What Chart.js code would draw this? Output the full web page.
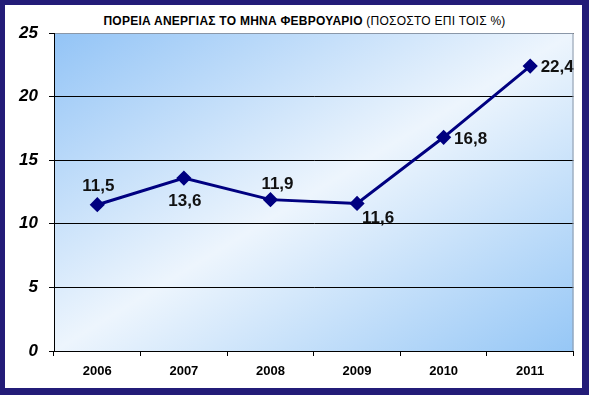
<!DOCTYPE html>
<html>
<head>
<meta charset="utf-8">
<script src="https://cdn.jsdelivr.net/npm/chart.js@4"></script>
<style>
  html, body { margin: 0; padding: 0; }
  body { width: 589px; height: 395px; background: #231c78; position: relative; overflow: hidden; }
  #box { position: absolute; left: 5px; top: 5px; width: 577px; height: 383px; background: #fff; }
  #title { position: absolute; left: 22px; top: 9px; width: 555px; text-align: center;
    font-family: "Liberation Sans", Arial, sans-serif; font-size: 12px; color: #000; letter-spacing: 0.25px; }
  #title b { font-weight: bold; }
  #myChart { position: absolute; left: 0; top: 0; }
</style>
</head>
<body>
<div id="box">
  <div id="title"><b>ΠΟΡΕΙΑ ΑΝΕΡΓΙΑΣ ΤΟ ΜΗΝΑ ΦΕΒΡΟΥΑΡΙΟ</b> (ΠΟΣΟΣΤΟ ΕΠΙ ΤΟΙΣ %)</div>
  <canvas id="myChart" width="577" height="383"></canvas>
</div>
<script>
var years = ["2006", "2007", "2008", "2009", "2010", "2011"];
var rates = [11.5, 13.6, 11.9, 11.6, 16.8, 22.4];
var yTicks = [0, 5, 10, 15, 20, 25];

// where each value label sits relative to its point
var labelShift = [[1, -18], [1, 23], [7, -15], [21, 15], [27, 2], [27, 1]];

var plotBack = {
	id: 'plotBack',
	beforeDraw: function(chart) {
		var a = chart.chartArea, ctx = chart.ctx;
		var w = a.right - a.left, h = a.bottom - a.top;
		var cx = a.left + w / 2, cy = a.top + h / 2;
		var k = w * h / (w * w + h * h);
		var g = ctx.createLinearGradient(cx - h * k, cy - w * k, cx + h * k, cy + w * k);
		g.addColorStop(0, '#93c4f6');
		g.addColorStop(0.5, '#edf5fd');
		g.addColorStop(1, '#96c7f6');
		ctx.save();
		ctx.fillStyle = g;
		ctx.fillRect(a.left, a.top, w, h);
		ctx.restore();
	},
	afterDraw: function(chart) {
		var a = chart.chartArea, ctx = chart.ctx;
		ctx.save();
		ctx.strokeStyle = '#8a97a8';
		ctx.lineWidth = 1;
		ctx.beginPath();
		ctx.moveTo(a.left + 1, a.top + 0.5);
		ctx.lineTo(a.right - 0.5, a.top + 0.5);
		ctx.lineTo(a.right - 0.5, a.bottom);
		ctx.stroke();
		ctx.restore();
	}
};

var valueLabels = {
	id: 'valueLabels',
	afterDatasetsDraw: function(chart) {
		var ctx = chart.ctx;
		var meta = chart.getDatasetMeta(0);
		ctx.save();
		ctx.font = 'bold 17px "Liberation Sans", Arial, sans-serif';
		ctx.fillStyle = '#111';
		ctx.textAlign = 'center';
		ctx.textBaseline = 'middle';
		meta.data.forEach(function(pt, i) {
			var txt = String(rates[i]).replace('.', ',');
			ctx.fillText(txt, pt.x + labelShift[i][0], pt.y + labelShift[i][1]);
		});
		ctx.restore();
	}
};

function buildChart() {
	var ctx = document.getElementById('myChart').getContext('2d');
	var chart = new Chart(ctx, {
		type: 'line',
		data: {
			labels: years,
			datasets: [{
				data: rates,
				borderColor: '#000080',
				backgroundColor: '#000080',
				borderWidth: 3,
				pointStyle: 'rectRot',
				pointRadius: 5.5,
				pointHoverRadius: 5.5,
				tension: 0
			}]
		},
		options: {
			responsive: false,
			animation: false,
			layout: { padding: { left: 0, right: 8, top: 28, bottom: 0 } },
			plugins: { legend: { display: false }, tooltip: { enabled: false } },
			scales: {
				x: {
					offset: true,
					afterFit: function(s) { s.height = 37; },
					grid: { offset: true, drawOnChartArea: false, color: '#000', tickLength: 5 },
					border: { color: '#000', width: 1 },
					ticks: { color: '#000', padding: 8, font: { family: '"Liberation Sans", Arial, sans-serif', size: 13, weight: 'bold' } }
				},
				y: {
					min: 0,
					max: 25,
					afterFit: function(s) { s.width = 49; },
					afterBuildTicks: function(s) { s.ticks = yTicks.map(function(v) { return { value: v }; }); },
					grid: { color: '#000', tickLength: 5 },
					border: { color: '#000', width: 1 },
					ticks: { color: '#000', padding: 11, font: { family: '"Liberation Sans", Arial, sans-serif', size: 17, weight: 'bold', style: 'italic' } }
				}
			}
		},
		plugins: [plotBack, valueLabels]
	});
}

buildChart();
</script>
</body>
</html>
